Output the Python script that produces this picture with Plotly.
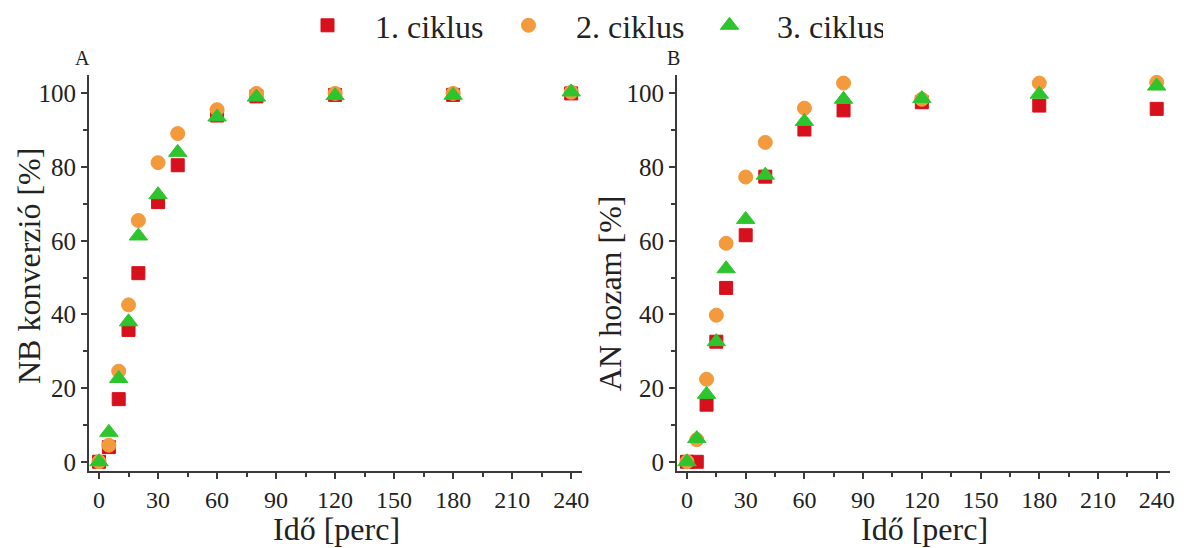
import plotly.graph_objects as go

time_min = [0, 5, 10, 15, 20, 30, 40, 60, 80, 120, 180, 240]

nb_c1 = [0, 4, 17, 35.8, 51.2, 70.5, 80.5, 94, 99.2, 99.6, 99.6, 100]
nb_c2 = [0, 4.5, 24.6, 42.6, 65.5, 81.2, 89.1, 95.6, 100, 100, 100, 100.3]
nb_c3 = [0, 8, 22.6, 38, 61.3, 72.5, 84, 93.6, 99, 99.4, 99.5, 100.4]

an_c1 = [0, 0, 15.5, 32.6, 47.2, 61.5, 77.4, 90.2, 95.4, 97.6, 96.7, 95.8]
an_c2 = [0, 6, 22.4, 39.8, 59.3, 77.3, 86.7, 96, 102.8, 98.4, 102.8, 103]
an_c3 = [0, 6.3, 18.3, 32.6, 52.4, 65.8, 77.8, 92.4, 98.4, 98.6, 99.8, 102]

series_names = ["1. ciklus", "2. ciklus", "3. ciklus"]
colors = ["#d6101c", "#f39a3c", "#2ec42e"]
symbols = ["square", "circle", "triangle-up"]

x_ticks = [0, 30, 60, 90, 120, 150, 180, 210, 240]
y_ticks = [0, 20, 40, 60, 80, 100]

FONT = "Liberation Serif"
W, H = 1184, 548
ML, MR, MT, MB = 89, 14, 75, 77
PW, PH = W - ML - MR, H - MT - MB


def px2x(px):
    return (px - ML) / PW


def py2y(py):
    return (H - MB - py) / PH


fig = go.Figure()
left = [nb_c1, nb_c2, nb_c3]
right = [an_c1, an_c2, an_c3]
sizes = [13, 14, 16]
for i in range(3):
    mk = dict(symbol=symbols[i], size=sizes[i], color=colors[i],
              line=dict(color=colors[i], width=1))
    fig.add_trace(go.Scatter(x=time_min, y=left[i], mode="markers", name=series_names[i],
                             marker=mk, xaxis="x", yaxis="y", legendgroup=str(i)))
    fig.add_trace(go.Scatter(x=time_min, y=right[i], mode="markers", name=series_names[i],
                             marker=mk, xaxis="x2", yaxis="y2", legendgroup=str(i),
                             showlegend=False))

axis_common = dict(
    showline=True, linecolor="#3a3a3a", linewidth=2, mirror=False,
    ticks="outside", ticklen=6, tickwidth=1.5, tickcolor="#3a3a3a",
    showgrid=False, zeroline=False, automargin=False,
)

xa = dict(axis_common, tickvals=x_ticks,
          tickfont=dict(family=FONT, size=24, color="#222"),
          minor=dict(dtick=15, tick0=0, ticks="outside", ticklen=4, tickcolor="#3a3a3a"))
ya = dict(axis_common, range=[-2.5, 105], tickvals=y_ticks,
          tickfont=dict(family=FONT, size=25, color="#222"),
          minor=dict(dtick=10, tick0=0, ticks="outside", ticklen=4, tickcolor="#3a3a3a"))

title_font = dict(family=FONT, size=32, color="#222")
xtitle_font = dict(family=FONT, size=32, color="#222")


def label(text, px, py, font, angle=0):
    return dict(text=text, x=px2x(px), y=py2y(py), xref="paper", yref="paper",
                xanchor="center", yanchor="middle", textangle=angle,
                showarrow=False, font=font)


fig.update_layout(
    width=W, height=H,
    margin=dict(l=ML, r=MR, t=MT, b=MB, autoexpand=False),
    paper_bgcolor="white", plot_bgcolor="white",
    font=dict(family=FONT, color="#222"),
    xaxis=dict(xa, domain=[0, px2x(582)], anchor="y", range=[-5.1, 245.5]),
    yaxis=dict(ya, domain=[0, 1], anchor="x"),
    xaxis2=dict(xa, domain=[px2x(677), 1], anchor="y2", range=[-5.1, 246.8]),
    yaxis2=dict(ya, domain=[0, 1], anchor="x2"),
    legend=dict(orientation="h", x=px2x(280), xanchor="left", y=py2y(-2), yanchor="top",
                font=dict(family=FONT, size=32, color="#222"),
                itemwidth=85, entrywidth=101, entrywidthmode="pixels",
                tracegroupgap=0, bgcolor="rgba(0,0,0,0)"),
    showlegend=True,
    annotations=[
        label("A", 82, 58, dict(family=FONT, size=20, color="#222")),
        label("B", 673, 58, dict(family=FONT, size=20, color="#222")),
        label("NB konverzió [%]", 29, 266, title_font, -90),
        label("AN hozam [%]", 610, 294, title_font, -90),
        label("Idő [perc]", 336, 529, xtitle_font),
        label("Idő [perc]", 924, 529, xtitle_font),
    ],
)

fig.write_html("out.html", config={"displayModeBar": False},
               post_script="document.body.style.margin='0';")
